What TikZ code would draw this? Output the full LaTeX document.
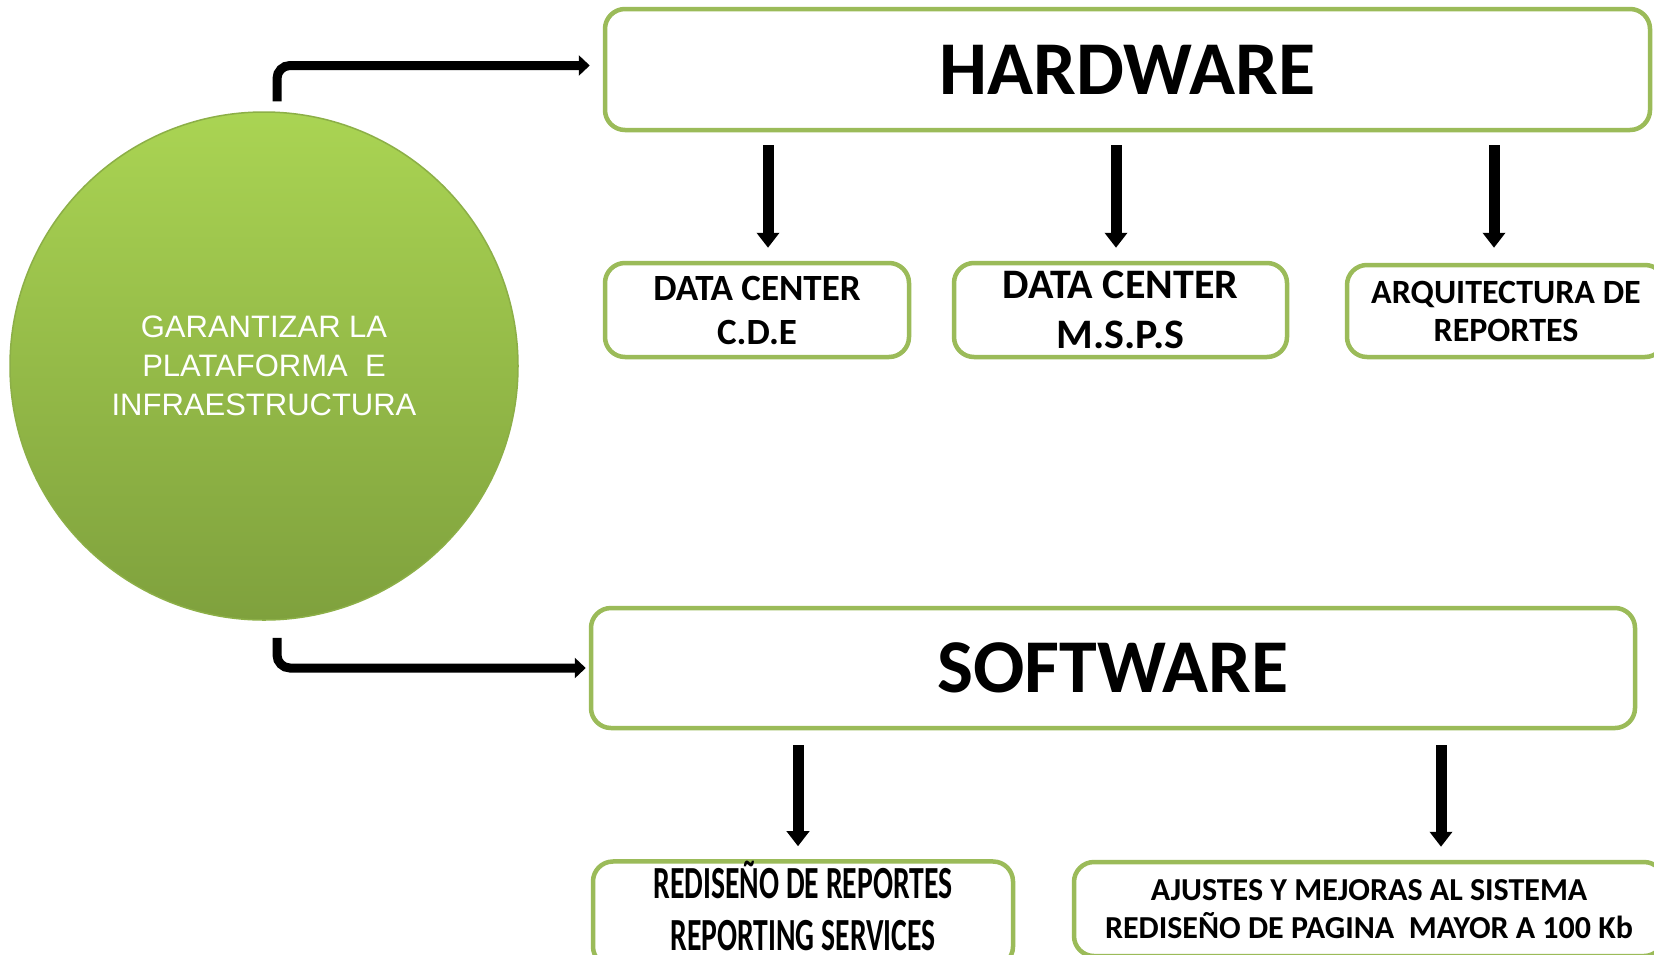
\documentclass[tikz,border=0pt]{standalone}
\usepackage{fontspec}
\setmainfont{Carlito}
\newfontfamily\arialfont{Liberation Sans}
\usetikzlibrary{arrows.meta,calc}
\definecolor{boxgreen}{HTML}{9BBB59}
\definecolor{balltop}{HTML}{AAD453}
\definecolor{ballbot}{HTML}{7FA13D}
\definecolor{ballrim}{HTML}{8CAF47}
\tikzset{
  box/.style={draw=boxgreen, line width=4.5pt, rounded corners=20pt, fill=white, inner sep=0pt, align=center, font=\bfseries},
  vdown/.style={line width=11pt, -{Triangle[width=22pt,length=15pt]}},
  elbow/.style={line width=9pt, rounded corners=13pt, -{Triangle[width=20pt,length=11pt]}},
}
\begin{document}
\begin{tikzpicture}[x=1pt,y=-1pt]
\useasboundingbox (0,0) rectangle (1654,954);
\clip (0,0) rectangle (1654,954);
\fill[white] (0,0) rectangle (1654,954);

% central circle
\node[circle, minimum size=508pt, inner sep=0pt, top color=balltop, bottom color=ballbot, draw=ballrim, line width=1.5pt,
      text=white, align=center, font=\arialfont\fontsize{31}{39}\selectfont] (c) at (264,366)
  {GARANTIZAR LA\\PLATAFORMA\ \ E\\INFRAESTRUCTURA};

% main boxes
\node[box, minimum width=1045pt, minimum height=121pt, font=\bfseries\fontsize{76}{80}\selectfont] (hw) at (1127.5,69.5) {HARDWARE};
\node[box, minimum width=1044pt, minimum height=120pt, font=\bfseries\fontsize{76}{80}\selectfont] (sw) at (1113,668) {SOFTWARE};

% hardware children
\node[box, minimum width=304pt, minimum height=94pt, font=\bfseries\fontsize{37}{44}\selectfont] (b1) at (757,310) {DATA CENTER\\C.D.E};
\node[box, minimum width=333pt, minimum height=94pt, font=\bfseries\fontsize{42}{50}\selectfont] (b2) at (1120.5,310) {DATA CENTER\\M.S.P.S};
\node[box, minimum width=318pt, minimum height=92pt, font=\bfseries\fontsize{34}{38}\selectfont] (b3) at (1506,311) {ARQUITECTURA DE\\REPORTES};

% software children
\node[box, minimum width=420pt, minimum height=104pt] (b4) at (803,914)
  {\scalebox{0.645}[1]{\fontsize{46}{52}\selectfont\begin{tabular}{@{}c@{}}REDISE\~NO DE REPORTES\\REPORTING SERVICES\end{tabular}}};
\node[box, minimum width=590pt, minimum height=94pt, font=\bfseries\fontsize{32}{38}\selectfont] (b5) at (1369,909)
  {AJUSTES Y MEJORAS AL SISTEMA\\REDISE\~NO DE PAGINA\ \ MAYOR A 100 Kb};

% elbow connectors
\draw[elbow] ([xshift=13pt,yshift=10pt]c.north) |- ([xshift=-13pt,yshift=4pt]hw.west);
\draw[elbow] ([xshift=13pt,yshift=-17pt]c.south) |- ([xshift=-3pt]sw.west);

% vertical arrows
\draw[vdown] ($(b1.north |- hw.south)+(11,13)$) -- ($(b1.north)+(11,-13)$);
\draw[vdown] ($(b2.north |- hw.south)+(-4.5,13)$) -- ($(b2.north)+(-4.5,-13)$);
\draw[vdown] ($(b3.north |- hw.south)+(-12,13)$) -- ($(b3.north)+(-12,-15)$);
\draw[vdown] ($(b4.north |- sw.south)+(-5,15)$) -- ($(b4.north)+(-5,-13)$);
\draw[vdown] ($(b5.north |- sw.south)+(72,15)$) -- ($(b5.north)+(72,-13)$);
\end{tikzpicture}
\end{document}
